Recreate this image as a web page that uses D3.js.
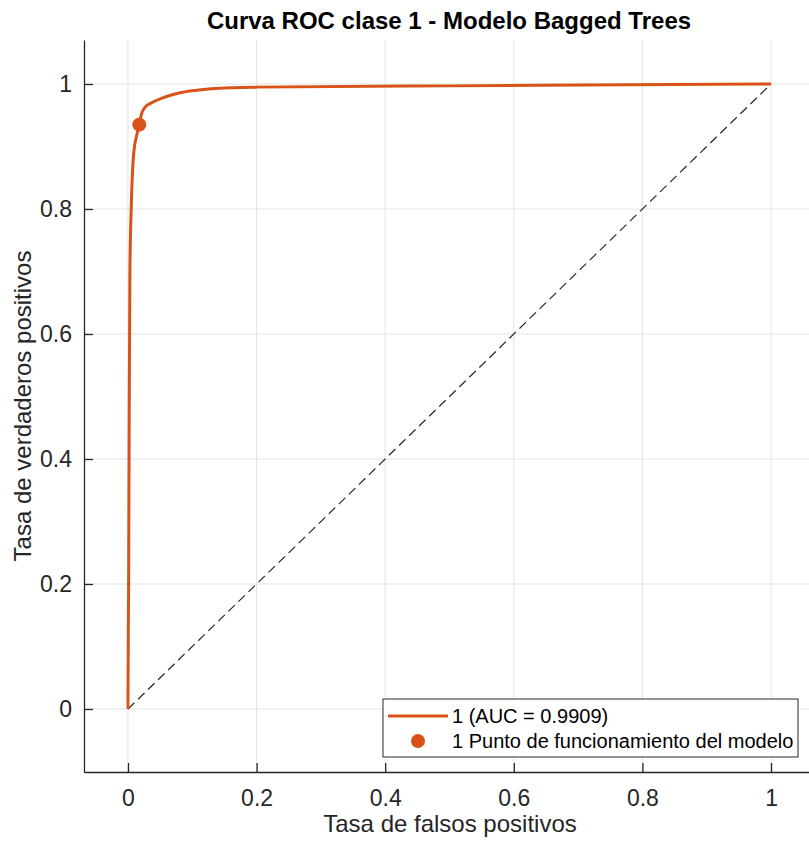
<!DOCTYPE html>
<html><head><meta charset="utf-8">
<script src="https://cdn.jsdelivr.net/npm/d3@7"></script>
<style>body{margin:0;background:#fff}svg{display:block}</style>
</head><body>
<script>
const fpr = [0, 0, 0.001, 0.002, 0.003, 0.005, 0.009, 0.014, 0.0176, 0.021, 0.026, 0.035, 0.045, 0.06, 0.081, 0.107, 0.159, 0.2, 0.5, 1];
const tpr = [0, 0.02, 0.2, 0.5, 0.7, 0.8, 0.89, 0.92, 0.936, 0.952, 0.962, 0.969, 0.974, 0.98, 0.986, 0.990, 0.994, 0.995, 0.997, 1];
const opPoint = {x: 0.0176, y: 0.935};
const xTicks = [0, 0.2, 0.4, 0.6, 0.8, 1];
const yTicks = [0, 0.2, 0.4, 0.6, 0.8, 1];
const titleText = "Curva ROC clase 1 - Modelo Bagged Trees";
const xLabel = "Tasa de falsos positivos";
const yLabel = "Tasa de verdaderos positivos";
const legendLabels = ["1 (AUC = 0.9909)", "1 Punto de funcionamiento del modelo"];

(function () {
const W = 809, H = 844;
const color = "#D95319";
const font = "Liberation Sans, Arial, Helvetica, sans-serif";
const svg = d3.select("body").append("svg").attr("width", W).attr("height", H);
const x = d3.scaleLinear().domain([-0.0684, 1.0684]).range([84, 815]);
const y = d3.scaleLinear().domain([-0.1008, 1.0704]).range([772, 40]);
const pL = 84, pB = 772, pT = 40, pR = 815;

// grid
svg.append("g").selectAll("line").data(xTicks).join("line")
  .attr("x1", d => x(d)).attr("x2", d => x(d)).attr("y1", pT).attr("y2", pB)
  .attr("stroke", "#e3e3e3").attr("stroke-width", 1);
svg.append("g").selectAll("line").data(yTicks).join("line")
  .attr("x1", pL).attr("x2", pR).attr("y1", d => y(d)).attr("y2", d => y(d))
  .attr("stroke", "#e3e3e3").attr("stroke-width", 1);

// diagonal
svg.append("line").attr("x1", x(0)).attr("y1", y(0)).attr("x2", x(1)).attr("y2", y(1))
  .attr("stroke", "#262626").attr("stroke-width", 1.2).attr("stroke-dasharray", "9,5");

// curve
const pts = fpr.map((f, i) => [f, tpr[i]]);
svg.append("path").datum(pts)
  .attr("d", d3.line().x(d => x(d[0])).y(d => y(d[1])).curve(d3.curveMonotoneX))
  .attr("fill", "none").attr("stroke", color).attr("stroke-width", 3);
svg.append("circle").attr("cx", x(opPoint.x)).attr("cy", y(opPoint.y)).attr("r", 7).attr("fill", color);

// axes
const xAxis = d3.axisBottom(x).tickValues(xTicks).tickSizeInner(-9).tickSizeOuter(0).tickPadding(18)
  .tickFormat(d => d3.format("~g")(d));
const gx = svg.append("g").attr("transform", `translate(0,${pB})`).call(xAxis);
const yAxis = d3.axisLeft(y).tickValues(yTicks).tickSizeInner(-9).tickSizeOuter(0).tickPadding(12)
  .tickFormat(d => d3.format("~g")(d));
const gy = svg.append("g").attr("transform", `translate(${pL},0)`).call(yAxis);
[gx, gy].forEach(g => {
  g.select(".domain").attr("stroke", "#262626").attr("stroke-width", 1.3);
  g.selectAll(".tick line").attr("stroke", "#262626").attr("stroke-width", 1.3);
  g.selectAll(".tick text").attr("fill", "#262626").attr("font-family", font).attr("font-size", 23);
});
gx.selectAll(".tick text").attr("dy", "0.71em");

// labels
svg.append("text").attr("x", 449).attr("y", 29).attr("text-anchor", "middle")
  .attr("font-family", font).attr("font-weight", "bold").attr("font-size", 24)
  .attr("fill", "#000").text(titleText);
svg.append("text").attr("x", 450).attr("y", 832).attr("text-anchor", "middle")
  .attr("font-family", font).attr("font-size", 24)
  .attr("fill", "#262626").text(xLabel);
svg.append("text").attr("transform", `translate(31,406) rotate(-90)`).attr("text-anchor", "middle")
  .attr("font-family", font).attr("font-size", 24)
  .attr("fill", "#262626").text(yLabel);

// legend
const lg = svg.append("g");
lg.append("rect").attr("x", 383).attr("y", 699).attr("width", 415).attr("height", 58)
  .attr("fill", "#fff").attr("stroke", "#262626").attr("stroke-width", 1);
lg.append("line").attr("x1", 388).attr("x2", 448).attr("y1", 716).attr("y2", 716)
  .attr("stroke", color).attr("stroke-width", 3);
lg.append("circle").attr("cx", 418).attr("cy", 741).attr("r", 7).attr("fill", color);
lg.selectAll("text").data(legendLabels).join("text")
  .attr("x", 452).attr("y", (d, i) => 723 + i * 25)
  .attr("font-family", font).attr("font-size", 20)
  .attr("fill", "#000").text(d => d);
})();
</script>
</body></html>
